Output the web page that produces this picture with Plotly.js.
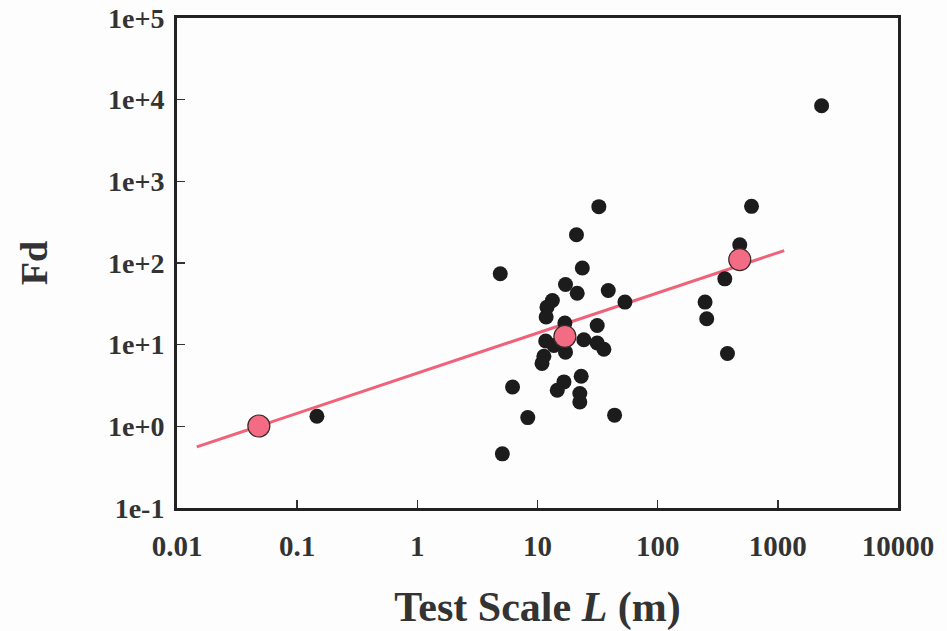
<!DOCTYPE html>
<html>
<head>
<meta charset="utf-8">
<script src="https://cdn.plot.ly/plotly-3.0.1.min.js"></script>
<style>html,body{margin:0;padding:0;background:#fff;}#chart{width:947px;height:631px;}</style>
</head>
<body>
<div id="chart"></div>
<script>
// Field data (black dots)
const dataL  = [32.4, 21.1, 4.9, 23.6, 17.1, 21.4, 38.8, 53.4, 13.3, 12.0, 11.8, 16.9, 31.4, 11.7, 13.7, 24.3, 31.4, 35.7, 17.1, 11.3, 10.9, 16.6, 14.6, 23.1, 22.5, 22.5, 8.3, 43.8, 6.2, 5.1, 0.146, 2313, 604, 482, 362, 248, 256, 381];
const dataFd = [490, 222, 73.8, 87, 54.6, 42.7, 46.1, 33.2, 34.8, 28.8, 21.8, 18.4, 17.2, 11.1, 9.8, 11.5, 10.5, 8.8, 8.1, 7.2, 5.9, 3.5, 2.77, 4.1, 2.52, 1.99, 1.28, 1.37, 3.03, 0.46, 1.33, 8410, 494, 167, 64, 33.2, 20.8, 7.8];
// Mean points (pink)
const meanL  = [0.048, 16.9, 482];
const meanFd = [1.01, 12.6, 110];
// Fitted line
const fitL  = [0.0146, 1130];
const fitFd = [0.56, 142];
// Tick labels
const xTickVals = [0.01, 0.1, 1, 10, 100, 1000, 10000];
const xTickText = ["0.01", "0.1", "1", "10", "100", "1000", "10000"];
const yTickVals = [0.1, 1, 10, 100, 1000, 10000, 100000];
const yTickText = ["1e-1", "1e+0", "1e+1", "1e+2", "1e+3", "1e+4", "1e+5"];

const serif = "Liberation Serif, Times New Roman, serif";
const traces = [
  {x: fitL, y: fitFd, mode: "lines", line: {color: "#f0627a", width: 3}, hoverinfo: "skip", showlegend: false},
  {x: dataL, y: dataFd, mode: "markers", marker: {color: "#1c1c1c", size: 15, line: {width: 0}}, showlegend: false},
  {x: meanL, y: meanFd, mode: "markers", marker: {color: "#f46b84", size: 22, line: {color: "#3a2a2a", width: 1.2}}, showlegend: false}
];
const layout = {
  width: 947, height: 631,
  margin: {l: 177, r: 49, t: 18, b: 123},
  paper_bgcolor: "#fcfdfc", plot_bgcolor: "#fcfdfc",
  showlegend: false,
  xaxis: {
    type: "log", range: [-2, 4],
    tickvals: xTickVals, ticktext: xTickText,
    ticks: "inside", ticklen: 8, tickwidth: 1.5, tickcolor: "#333",
    showline: true, linecolor: "#222", linewidth: 3, mirror: true,
    showgrid: false, zeroline: false,
    tickfont: {family: serif, size: 29, color: "#333", weight: "bold"},
    ticklabelstandoff: 10,
    title: {text: "<b>Test Scale <i>L</i> (m)</b>", font: {family: serif, size: 42, color: "#333"}, standoff: 32}
  },
  yaxis: {
    type: "log", range: [-1, 5],
    tickvals: yTickVals, ticktext: yTickText,
    ticks: "inside", ticklen: 8, tickwidth: 1.5, tickcolor: "#333",
    showline: true, linecolor: "#222", linewidth: 3, mirror: true,
    showgrid: false, zeroline: false,
    tickfont: {family: serif, size: 28, color: "#333", weight: "bold"},
    ticklabelstandoff: 4,
    title: {text: "<b>Fd</b>", font: {family: serif, size: 38, color: "#333"}, standoff: 49}
  }
};
Plotly.newPlot("chart", traces, layout, {displayModeBar: false, staticPlot: true});
</script>
</body>
</html>
